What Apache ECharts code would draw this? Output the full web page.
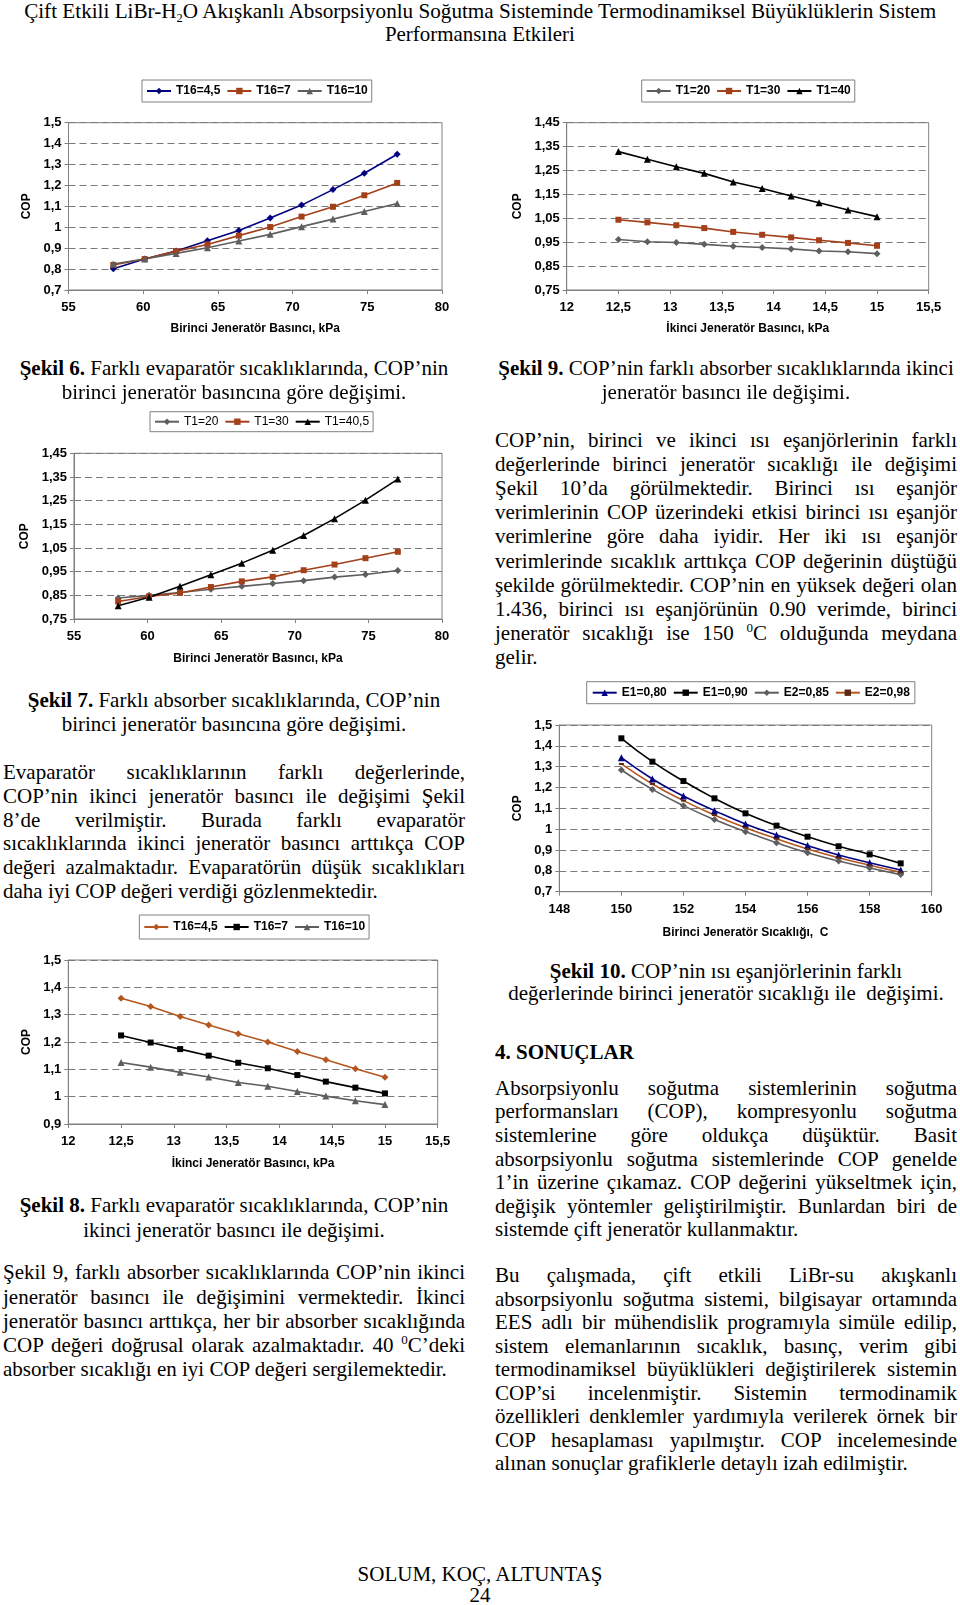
<!DOCTYPE html>
<html><head><meta charset="utf-8">
<script src="https://cdn.jsdelivr.net/npm/echarts@6/dist/echarts.min.js"></script>
<style>
html,body{margin:0;padding:0;background:#fff;}
body{width:960px;height:1605px;position:relative;overflow:hidden;font-family:'Liberation Serif','Times New Roman',serif;color:#000;}
.ln{position:absolute;height:24px;line-height:24px;font-size:21px;white-space:normal;overflow:visible;}
.j{text-align:justify;text-align-last:justify;}
.l{text-align:left;}
.c{text-align:center;}
.ch{position:absolute;}
sup{font-size:13px;vertical-align:8px;line-height:0;}
sub{font-size:13px;vertical-align:-4px;line-height:0;}
</style>
</head><body>
<div id="title1" style="position:absolute;left:0;width:960px;top:-1px;height:24px;line-height:24px;font-size:22px;text-align:center;"><span id="ts1" style="display:inline-block;white-space:nowrap;transform-origin:50% 50%;">Çift Etkili LiBr-H<sub>2</sub>O Akışkanlı Absorpsiyonlu Soğutma Sisteminde Termodinamiksel Büyüklüklerin Sistem</span></div>
<div id="title2" style="position:absolute;left:0;width:960px;top:22px;height:24px;line-height:24px;font-size:22px;text-align:center;"><span id="ts2" style="display:inline-block;white-space:nowrap;transform-origin:50% 50%;">Performansına Etkileri</span></div>

<div id="c6" class="ch" style="left:0;top:70px;width:480px;height:280px;"></div>
<div id="c9" class="ch" style="left:480px;top:70px;width:480px;height:280px;"></div>
<div id="c7" class="ch" style="left:0;top:400px;width:480px;height:270px;"></div>
<div id="c10" class="ch" style="left:480px;top:670px;width:480px;height:280px;"></div>
<div id="c8" class="ch" style="left:0;top:905px;width:480px;height:270px;"></div>

<script>
// ---------- DATA ----------
const pressure1X = [58, 60.1, 62.2, 64.3, 66.4, 68.5, 70.6, 72.7, 74.8, 77];
const pressure2X = [12.5, 12.78, 13.06, 13.33, 13.61, 13.89, 14.17, 14.44, 14.72, 15];
const tempX = [150, 151, 152, 153, 154, 155, 156, 157, 158, 159];

// Şekil 6
const s6Names = ['T16=4,5', 'T16=7', 'T16=10'];
const s6T16_45 = [0.802, 0.848, 0.886, 0.936, 0.985, 1.044, 1.106, 1.180, 1.258, 1.349];
const s6T16_7  = [0.820, 0.848, 0.886, 0.918, 0.960, 1.001, 1.051, 1.098, 1.153, 1.212];
const s6T16_10 = [0.824, 0.848, 0.875, 0.902, 0.934, 0.966, 1.003, 1.039, 1.075, 1.114];

// Şekil 9
const s9Names = ['T1=20', 'T1=30', 'T1=40'];
const s9T1_20 = [0.961, 0.952, 0.949, 0.941, 0.933, 0.928, 0.922, 0.913, 0.910, 0.902];
const s9T1_30 = [1.044, 1.033, 1.021, 1.009, 0.993, 0.981, 0.970, 0.958, 0.947, 0.935];
const s9T1_40 = [1.329, 1.297, 1.266, 1.238, 1.202, 1.175, 1.143, 1.115, 1.085, 1.057];

// Şekil 7
const s7Names = ['T1=20', 'T1=30', 'T1=40,5'];
const s7T1_20  = [0.839, 0.850, 0.862, 0.876, 0.888, 0.900, 0.912, 0.927, 0.938, 0.955];
const s7T1_30  = [0.824, 0.845, 0.860, 0.885, 0.909, 0.928, 0.956, 0.980, 1.007, 1.034];
const s7T1_405 = [0.806, 0.842, 0.888, 0.937, 0.986, 1.040, 1.103, 1.174, 1.252, 1.341];

// Şekil 10
const s10Names = ['E1=0,80', 'E1=0,90', 'E2=0,85', 'E2=0,98'];
const s10E1_80 = [1.343, 1.241, 1.159, 1.089, 1.025, 0.972, 0.922, 0.876, 0.839, 0.804];
const s10E1_90 = [1.436, 1.324, 1.231, 1.148, 1.076, 1.017, 0.964, 0.918, 0.879, 0.836];
const s10E2_85 = [1.284, 1.191, 1.113, 1.046, 0.988, 0.935, 0.887, 0.847, 0.814, 0.782];
const s10E2_98 = [1.313, 1.217, 1.137, 1.068, 1.007, 0.954, 0.905, 0.863, 0.827, 0.793];

// Şekil 8
const s8Names = ['T16=4,5', 'T16=7', 'T16=10'];
const s8T16_45 = [1.360, 1.330, 1.293, 1.262, 1.230, 1.200, 1.165, 1.135, 1.102, 1.071];
const s8T16_7  = [1.224, 1.198, 1.174, 1.150, 1.124, 1.104, 1.079, 1.055, 1.033, 1.012];
const s8T16_10 = [1.125, 1.108, 1.089, 1.072, 1.052, 1.038, 1.019, 1.002, 0.985, 0.971];

// Axis titles
const xTitle1 = 'Birinci Jeneratör Basıncı, kPa';
const xTitle2 = 'İkinci Jeneratör Basıncı, kPa';
const xTitle3 = 'Birinci Jeneratör Sıcaklığı,  C';
const yTitle = 'COP';

// ---------- STYLE ----------
const NAVY = '#000080', BROWN = '#A3401A', GREY = '#5E5E5E', BLACK = '#000000', ORANGE = '#B5561F';
const AXC = '#808080';
const FONT = "'Liberation Sans', Arial, sans-serif";

function fmt(v) { return String(Math.round(v * 100) / 100).replace('.', ','); }
function pairs(xs, ys) { return xs.map((x, i) => [x, ys[i]]); }

function ser(name, xs, ys, color, symbol, size, opts) {
  opts = opts || {};
  return Object.assign({
    type: 'line', name: name, data: pairs(xs, ys), symbol: symbol, symbolSize: size,
    color: color, lineStyle: { width: 1.6, color: opts.lineColor || color },
    itemStyle: { color: color, borderWidth: 0 },
    smooth: false, z: opts.z || 2
  }, opts.extra || {});
}

function build(id, c) {
  const chart = echarts.init(document.getElementById(id), null, { renderer: 'canvas' });
  chart.setOption({
    animation: false,
    textStyle: { fontFamily: FONT },
    grid: { left: c.grid[0], top: c.grid[1], width: c.grid[2], height: c.grid[3], show: true, borderColor: AXC, borderWidth: 1, backgroundColor: 'transparent' },
    legend: {
      left: c.legend[0], top: c.legend[1], orient: 'horizontal',
      borderColor: AXC, borderWidth: 1, padding: c.legendPad || [5, 4, 5, 4],
      itemGap: 6, itemWidth: 24, itemHeight: 8,
      textStyle: { fontSize: 12, fontWeight: c.legendWeight || 'bold', color: '#000', fontFamily: FONT },
      data: c.series.map(s => s.name)
    },
    xAxis: {
      type: 'value', min: c.x[0], max: c.x[1], interval: c.x[2],
      name: c.xName, nameLocation: 'middle', nameGap: c.xGap,
      nameTextStyle: { fontSize: 12, fontWeight: 'bold', color: '#000', fontFamily: FONT },
      axisLine: { show: true, onZero: false, lineStyle: { color: AXC, width: 1 } },
      axisTick: { show: true, length: 4, inside: false, lineStyle: { color: AXC } },
      axisLabel: { formatter: fmt, fontSize: 13, fontWeight: 'bold', color: '#000', margin: 11, fontFamily: FONT },
      splitLine: { show: false }
    },
    yAxis: {
      type: 'value', min: c.y[0], max: c.y[1], interval: c.y[2],
      name: yTitle, nameLocation: 'middle', nameGap: c.yGap,
      nameTextStyle: { fontSize: 12, fontWeight: 'bold', color: '#000', fontFamily: FONT },
      axisLine: { show: true, lineStyle: { color: AXC, width: 1 } },
      axisTick: { show: true, length: 4, inside: false, lineStyle: { color: AXC } },
      axisLabel: { formatter: fmt, fontSize: 13, fontWeight: 'bold', color: '#000', margin: 7, fontFamily: FONT },
      splitLine: { show: true, lineStyle: { color: '#7a7a7a', width: 1, type: [7, 4] } }
    },
    series: c.series
  });
}

build('c6', {
  grid: [68.5, 52.7, 373.5, 167.3], legend: [142, 10],
  x: [55, 80, 5], y: [0.7, 1.5, 0.1], xName: xTitle1, xGap: 33, yGap: 31,
  series: [
    ser(s6Names[0], pressure1X, s6T16_45, NAVY, 'diamond', 7),
    ser(s6Names[1], pressure1X, s6T16_7, BROWN, 'rect', 6),
    ser(s6Names[2], pressure1X, s6T16_10, GREY, 'triangle', 7)
  ]
});

build('c9', {
  grid: [86.7, 52.7, 362, 167.3], legend: [161.7, 10],
  x: [12, 15.5, 0.5], y: [0.75, 1.45, 0.1], xName: xTitle2, xGap: 33, yGap: 39,
  series: [
    ser(s9Names[0], pressure2X, s9T1_20, GREY, 'diamond', 7),
    ser(s9Names[1], pressure2X, s9T1_30, BROWN, 'rect', 6),
    ser(s9Names[2], pressure2X, s9T1_40, BLACK, 'triangle', 7)
  ]
});

build('c7', {
  grid: [74, 53.3, 368, 167.4], legend: [150, 11.7], legendPad: [4, 4, 4, 4], legendWeight: 'normal',
  x: [55, 80, 5], y: [0.75, 1.45, 0.1], xName: xTitle1, xGap: 34, yGap: 36,
  series: [
    ser(s7Names[0], pressure1X, s7T1_20, GREY, 'diamond', 7),
    ser(s7Names[1], pressure1X, s7T1_30, BROWN, 'rect', 6),
    ser(s7Names[2], pressure1X, s7T1_405, BLACK, 'triangle', 7)
  ]
});

build('c10', {
  grid: [79.3, 55, 372.4, 166.7], legend: [106.7, 11.7], legendPad: [5, 5, 5, 5],
  x: [148, 160, 2], y: [0.7, 1.5, 0.1], xName: xTitle3, xGap: 35, yGap: 32,
  series: [
    ser(s10Names[0], tempX, s10E1_80, NAVY, 'triangle', 7, { extra: { smooth: true } }),
    ser(s10Names[1], tempX, s10E1_90, BLACK, 'rect', 6, { extra: { smooth: true } }),
    ser(s10Names[2], tempX, s10E2_85, GREY, 'diamond', 7, { extra: { smooth: true } }),
    ser(s10Names[3], tempX, s10E2_98, '#5a2a10', 'rect', [5, 2], { lineColor: ORANGE, extra: { smooth: true } })
  ]
});

build('c8', {
  grid: [68.3, 55, 369.4, 167.3], legend: [139.3, 10], legendPad: [6, 4, 6, 4],
  x: [12, 15.5, 0.5], y: [0.9, 1.5, 0.1], xName: xTitle2, xGap: 34, yGap: 31,
  series: [
    ser(s8Names[0], pressure2X, s8T16_45, ORANGE, 'diamond', 7),
    ser(s8Names[1], pressure2X, s8T16_7, BLACK, 'rect', 6),
    ser(s8Names[2], pressure2X, s8T16_10, GREY, 'triangle', 7)
  ]
});

// ---------- TEXT ----------
function line(x, w, cy, html, mode) {
  const d = document.createElement('div');
  d.className = 'ln ' + mode;
  d.style.left = x + 'px'; d.style.width = w + 'px'; d.style.top = (cy - 12) + 'px';
  d.innerHTML = html;
  document.body.appendChild(d);
}
function para(x, w, cy0, step, lines) {
  lines.forEach((t, i) => line(x, w, cy0 + i * step, t, i === lines.length - 1 ? 'l' : 'j'));
}
function caption(x, w, cy0, step, lines) {
  lines.forEach((t, i) => line(x, w, cy0 + i * step, t, 'c'));
}
const LX = 3, LW = 462, RX = 495, RW = 462;

caption(LX, LW, 368, 24, ['<b>Şekil 6.</b> Farklı evaparatör sıcaklıklarında, COP’nin', 'birinci jeneratör basıncına göre değişimi.']);
caption(RX, RW, 368, 24, ['<b>Şekil 9.</b> COP’nin farklı absorber sıcaklıklarında ikinci', 'jeneratör basıncı ile değişimi.']);
para(RX, RW, 440, 24.1, [
  'COP’nin, birinci ve ikinci ısı eşanjörlerinin farklı',
  'değerlerinde birinci jeneratör sıcaklığı ile değişimi',
  'Şekil 10’da görülmektedir. Birinci ısı eşanjör',
  'verimlerinin COP üzerindeki etkisi birinci ısı eşanjör',
  'verimlerine göre daha iyidir. Her iki ısı eşanjör',
  'verimlerinde sıcaklık arttıkça COP değerinin düştüğü',
  'şekilde görülmektedir. COP’nin en yüksek değeri olan',
  '1.436, birinci ısı eşanjörünün 0.90 verimde, birinci',
  'jeneratör sıcaklığı ise 150 <sup>0</sup>C olduğunda meydana',
  'gelir.'
]);
caption(LX, LW, 700, 24, ['<b>Şekil 7.</b> Farklı absorber sıcaklıklarında, COP’nin', 'birinci jeneratör basıncına göre değişimi.']);
para(LX, LW, 771.7, 23.9, [
  'Evaparatör sıcaklıklarının farklı değerlerinde,',
  'COP’nin ikinci jeneratör basıncı ile değişimi Şekil',
  '8’de verilmiştir. Burada farklı evaparatör',
  'sıcaklıklarında ikinci jeneratör basıncı arttıkça COP',
  'değeri azalmaktadır. Evaparatörün düşük sıcaklıkları',
  'daha iyi COP değeri verdiği gözlenmektedir.'
]);
caption(LX, LW, 1205, 24.5, ['<b>Şekil 8.</b> Farklı evaparatör sıcaklıklarında, COP’nin', 'ikinci jeneratör basıncı ile değişimi.']);
para(LX, LW, 1272.3, 24.25, [
  'Şekil 9, farklı absorber sıcaklıklarında COP’nin ikinci',
  'jeneratör basıncı ile değişimini vermektedir. İkinci',
  'jeneratör basıncı arttıkça, her bir absorber sıcaklığında',
  'COP değeri doğrusal olarak azalmaktadır. 40 <sup>0</sup>C’deki',
  'absorber sıcaklığı en iyi COP değeri sergilemektedir.'
]);
caption(RX, RW, 970.7, 22.6, ['<b>Şekil 10.</b> COP’nin ısı eşanjörlerinin farklı', 'değerlerinde birinci jeneratör sıcaklığı ile&nbsp; değişimi.']);
line(RX, RW, 1051.7, '<b>4. SONUÇLAR</b>', 'l');
para(RX, RW, 1087.7, 23.6, [
  'Absorpsiyonlu soğutma sistemlerinin soğutma',
  'performansları (COP), kompresyonlu soğutma',
  'sistemlerine göre oldukça düşüktür. Basit',
  'absorpsiyonlu soğutma sistemlerinde COP genelde',
  '1’in üzerine çıkamaz. COP değerini yükseltmek için,',
  'değişik yöntemler geliştirilmiştir. Bunlardan biri de',
  'sistemde çift jeneratör kullanmaktır.'
]);
para(RX, RW, 1275, 23.5, [
  'Bu çalışmada, çift etkili LiBr-su akışkanlı',
  'absorpsiyonlu soğutma sistemi, bilgisayar ortamında',
  'EES adlı bir mühendislik programıyla simüle edilip,',
  'sistem elemanlarının sıcaklık, basınç, verim gibi',
  'termodinamiksel büyüklükleri değiştirilerek sistemin',
  'COP’si incelenmiştir. Sistemin termodinamik',
  'özellikleri denklemler yardımıyla verilerek örnek bir',
  'COP hesaplaması yapılmıştır. COP incelemesinde',
  'alınan sonuçlar grafiklerle detaylı izah edilmiştir.'
]);
line(0, 960, 1574, 'SOLUM, KOÇ, ALTUNTAŞ', 'c');
line(0, 960, 1595, '24', 'c');

// fit title widths to the reference
function fit(id, target) {
  const s = document.getElementById(id);
  const w = s.getBoundingClientRect().width;
  if (w > 0) s.style.transform = 'scaleX(' + (target / w) + ')';
}
fit('ts1', 912);
fit('ts2', 190);
</script>
</body></html>
